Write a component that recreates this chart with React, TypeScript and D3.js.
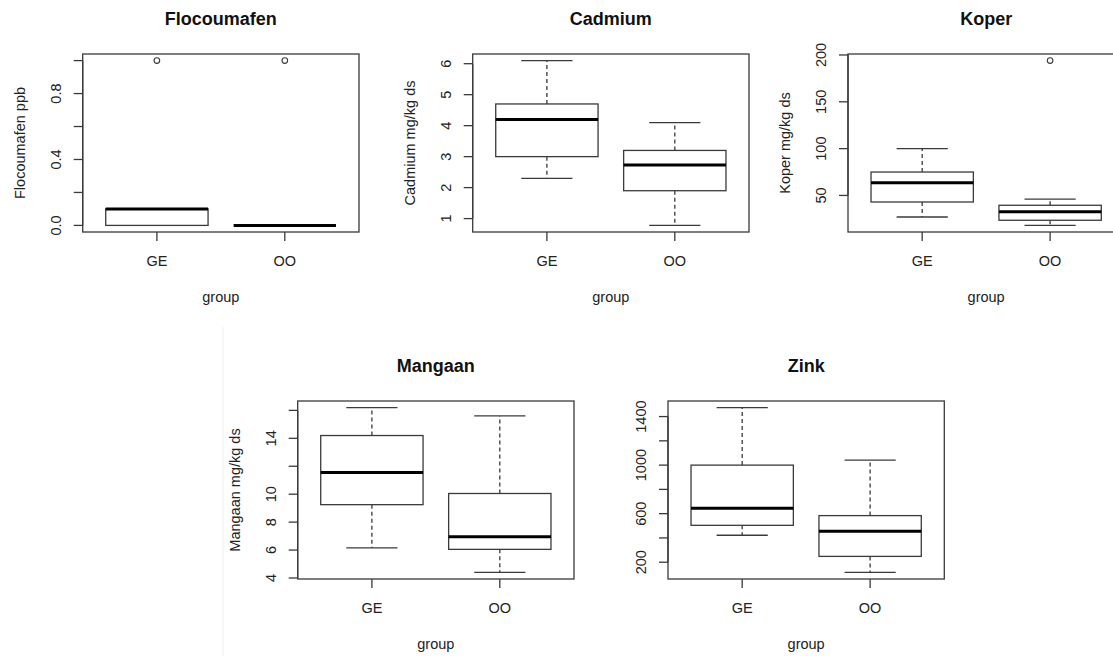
import React, { useRef, useEffect } from 'react';
import * as d3 from 'd3';

// box stats per group: [lower whisker, Q1, median, Q3, upper whisker]
const groups = ['GE', 'OO'];

const flocoumafenStats = [[0, 0, 0.1, 0.1, 0.1], [0, 0, 0, 0, 0]];
const flocoumafenOutliers = [[1.0], [1.0]];
const flocoumafenTicks = [0, 0.2, 0.4, 0.6, 0.8, 1.0];
const flocoumafenLabels = [0, 0.4, 0.8];

const cadmiumStats = [[2.3, 3.0, 4.2, 4.7, 6.1], [0.78, 1.9, 2.73, 3.2, 4.1]];
const cadmiumOutliers = [[], []];
const cadmiumTicks = [1, 2, 3, 4, 5, 6];
const cadmiumLabels = [1, 2, 3, 4, 5, 6];

const koperStats = [[27, 43, 63.5, 75, 100], [18, 23.5, 32.5, 39.5, 46]];
const koperOutliers = [[], [194]];
const koperTicks = [50, 100, 150, 200];
const koperLabels = [50, 100, 150, 200];

const mangaanStats = [[6.15, 9.25, 11.55, 14.2, 16.2], [4.4, 6.05, 6.95, 10.05, 15.6]];
const mangaanOutliers = [[], []];
const mangaanTicks = [4, 6, 8, 10, 12, 14, 16];
const mangaanLabels = [4, 6, 8, 10, 14];

const zinkStats = [[422, 504, 645, 1000, 1474], [116, 248, 455, 584, 1041]];
const zinkOutliers = [[], []];
const zinkTicks = [200, 400, 600, 800, 1000, 1200, 1400];
const zinkLabels = [200, 600, 1000, 1400];

const panels = [
  { title: 'Flocoumafen', ylab: 'Flocoumafen ppb', stats: flocoumafenStats, outliers: flocoumafenOutliers, ticks: flocoumafenTicks, labels: flocoumafenLabels, fmt: '.1f', left: 82.7, top: 54 },
  { title: 'Cadmium', ylab: 'Cadmium mg/kg ds', stats: cadmiumStats, outliers: cadmiumOutliers, ticks: cadmiumTicks, labels: cadmiumLabels, fmt: 'd', left: 472.7, top: 54 },
  { title: 'Koper', ylab: 'Koper mg/kg ds', stats: koperStats, outliers: koperOutliers, ticks: koperTicks, labels: koperLabels, fmt: 'd', left: 848, top: 54 },
  { title: 'Mangaan', ylab: 'Mangaan mg/kg ds', stats: mangaanStats, outliers: mangaanOutliers, ticks: mangaanTicks, labels: mangaanLabels, fmt: 'd', left: 297.7, top: 401 },
  { title: 'Zink', ylab: '', stats: zinkStats, outliers: zinkOutliers, ticks: zinkTicks, labels: zinkLabels, fmt: 'd', left: 668, top: 401 },
];

const W = 276.3;
const H = 178;
const FONT = '"Liberation Sans", Arial, sans-serif';
const LINE = '#3a3a3a';
const TEXT = '#222';

const BoxPanels = () => {
  const svgRef = useRef<SVGSVGElement>(null);

  useEffect(() => {
    const svg = d3.select(svgRef.current);
    svg.selectAll('*').remove();

    // faint edge of the pasted lower image
    svg.append('line')
      .attr('x1', 223).attr('x2', 223)
      .attr('y1', 327).attr('y2', 656)
      .attr('stroke', '#eeeeee');

    panels.forEach(p => {
      const g = svg.append('g').attr('transform', `translate(${p.left}, ${p.top})`);

      // R style: 4% extension on both axes
      const all = p.stats.flat().concat(p.outliers.flat());
      const [lo, hi] = d3.extent(all) as [number, number];
      const pad = (hi - lo) * 0.04;
      const y = d3.scaleLinear().domain([lo - pad, hi + pad]).range([H, 0]);
      const x = d3.scaleLinear().domain([0.42, 2.58]).range([0, W]);
      const boxW = x(1.4) - x(0.6);
      const fmt = d3.format(p.fmt);

      g.append('rect')
        .attr('width', W).attr('height', H)
        .attr('fill', 'none')
        .attr('stroke', LINE)
        .attr('stroke-width', 1.3);

      // y axis
      g.append('line')
        .attr('x1', 0).attr('x2', 0)
        .attr('y1', y(p.ticks[0])).attr('y2', y(p.ticks[p.ticks.length - 1]))
        .attr('stroke', LINE).attr('stroke-width', 1.3);
      g.selectAll('.ytick')
        .data(p.ticks)
        .enter()
        .append('line')
        .attr('x1', -9).attr('x2', 0)
        .attr('y1', d => y(d)).attr('y2', d => y(d))
        .attr('stroke', LINE).attr('stroke-width', 1.3);
      g.selectAll('.ylabel')
        .data(p.labels)
        .enter()
        .append('text')
        .attr('transform', d => `translate(-22, ${y(d)}) rotate(-90)`)
        .attr('text-anchor', 'middle')
        .attr('font-family', FONT).attr('font-size', 14.5)
        .attr('fill', TEXT)
        .text(d => fmt(d));

      // x axis
      g.selectAll('.xtick')
        .data(groups)
        .enter()
        .append('line')
        .attr('x1', (d, i) => x(i + 1)).attr('x2', (d, i) => x(i + 1))
        .attr('y1', H).attr('y2', H + 9)
        .attr('stroke', LINE).attr('stroke-width', 1.3);
      g.selectAll('.xlabel')
        .data(groups)
        .enter()
        .append('text')
        .attr('x', (d, i) => x(i + 1))
        .attr('y', H + 33.5)
        .attr('text-anchor', 'middle')
        .attr('font-family', FONT).attr('font-size', 14.5)
        .attr('fill', TEXT)
        .text(d => d);

      g.append('text')
        .attr('x', W / 2).attr('y', H + 70)
        .attr('text-anchor', 'middle')
        .attr('font-family', FONT).attr('font-size', 14.5)
        .attr('fill', TEXT)
        .text('group');

      g.append('text')
        .attr('x', W / 2).attr('y', -29.5)
        .attr('text-anchor', 'middle')
        .attr('font-family', FONT).attr('font-size', 18).attr('font-weight', 'bold')
        .attr('fill', '#111')
        .text(p.title);

      if (p.ylab) {
        g.append('text')
          .attr('transform', `translate(-58, ${H / 2}) rotate(-90)`)
          .attr('text-anchor', 'middle')
          .attr('font-family', FONT).attr('font-size', 14.5)
          .attr('fill', TEXT)
          .text(p.ylab);
      }

      // boxes
      p.stats.forEach((s, i) => {
        const cx = x(i + 1);
        const [wlo, q1, med, q3, whi] = s;
        const b = g.append('g');

        b.append('line')
          .attr('x1', cx).attr('x2', cx)
          .attr('y1', y(q3)).attr('y2', y(whi))
          .attr('stroke', LINE).attr('stroke-width', 1.3)
          .attr('stroke-dasharray', '4,3');
        b.append('line')
          .attr('x1', cx).attr('x2', cx)
          .attr('y1', y(q1)).attr('y2', y(wlo))
          .attr('stroke', LINE).attr('stroke-width', 1.3)
          .attr('stroke-dasharray', '4,3');
        [wlo, whi].forEach(v => {
          if (v === q1 || v === q3) return;
          b.append('line')
            .attr('x1', cx - boxW / 4).attr('x2', cx + boxW / 4)
            .attr('y1', y(v)).attr('y2', y(v))
            .attr('stroke', LINE).attr('stroke-width', 1.3);
        });
        b.append('rect')
          .attr('x', cx - boxW / 2).attr('width', boxW)
          .attr('y', y(q3)).attr('height', y(q1) - y(q3))
          .attr('fill', 'white')
          .attr('stroke', LINE).attr('stroke-width', 1.3);
        b.append('line')
          .attr('x1', cx - boxW / 2).attr('x2', cx + boxW / 2)
          .attr('y1', y(med)).attr('y2', y(med))
          .attr('stroke', '#000').attr('stroke-width', 3);

        b.selectAll('circle')
          .data(p.outliers[i])
          .enter()
          .append('circle')
          .attr('cx', cx).attr('cy', d => y(d))
          .attr('r', 2.8)
          .attr('fill', 'none')
          .attr('stroke', LINE).attr('stroke-width', 1.1);
      });
    });
  }, []);

  return (
    <svg ref={svgRef} width={1113} height={656}
      style={{ position: 'absolute', left: 0, top: 0, background: 'white' }} />
  );
};

export default function App() {
  return <BoxPanels />;
}
